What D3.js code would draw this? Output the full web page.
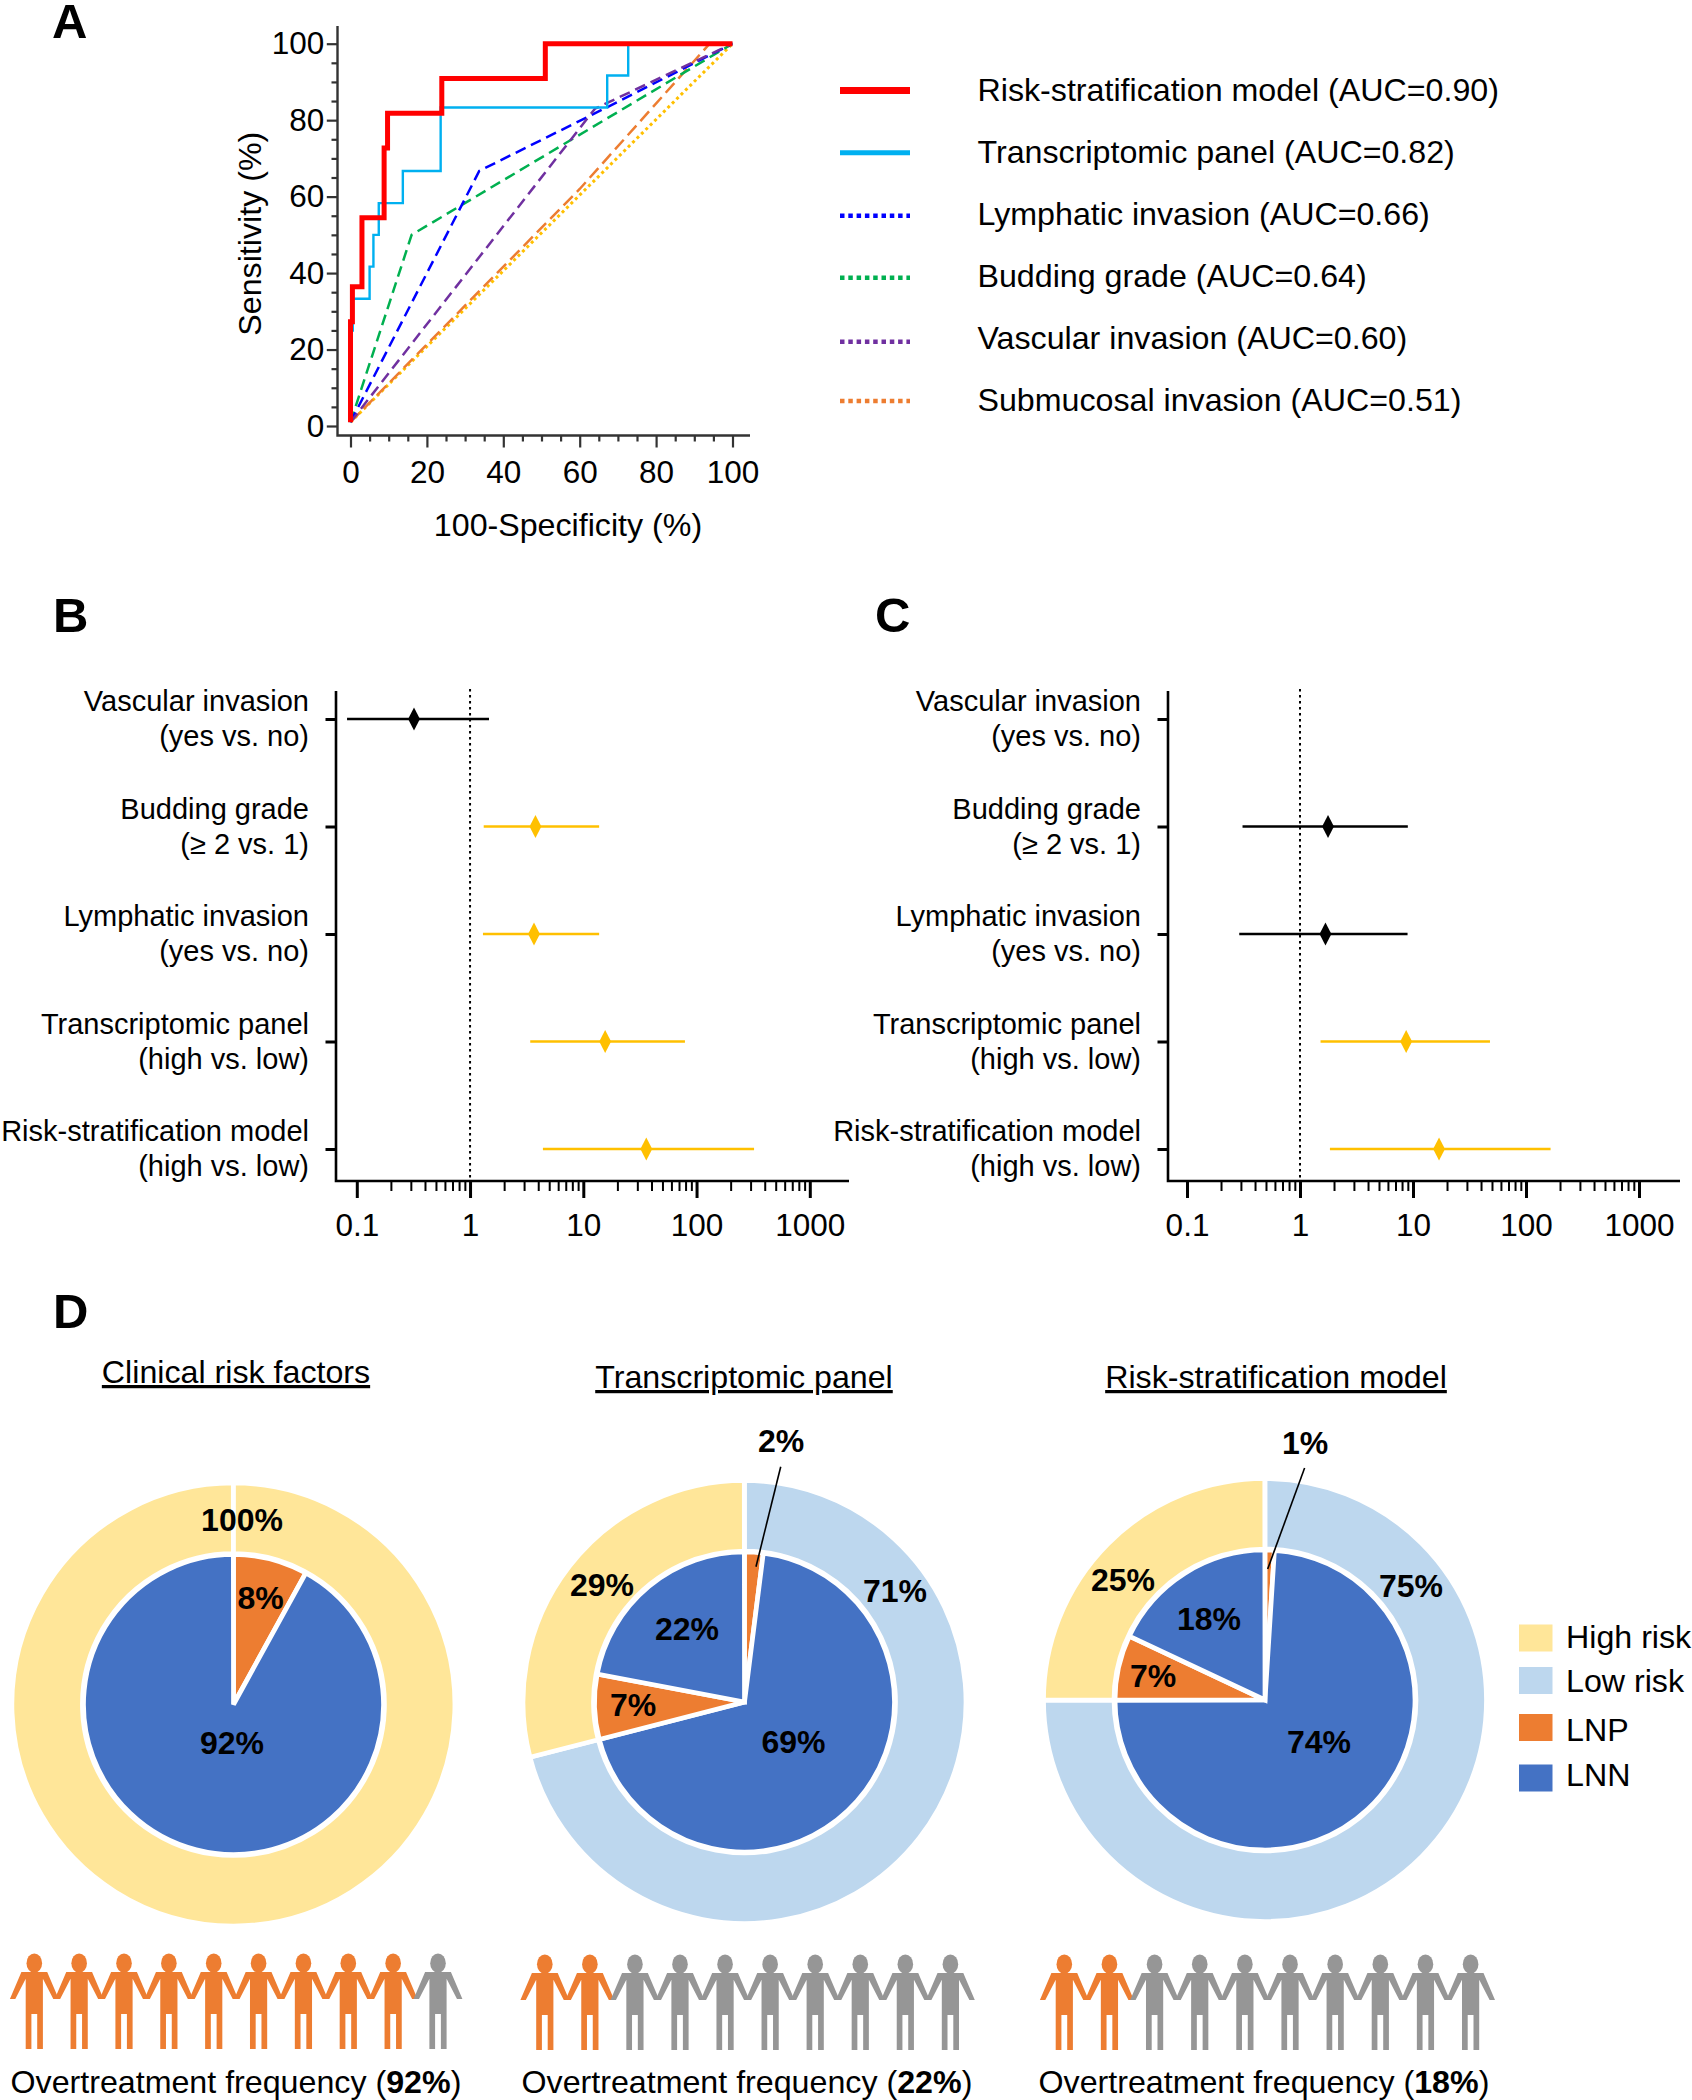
<!DOCTYPE html>
<html>
<head>
<meta charset="utf-8">
<script src="https://cdn.jsdelivr.net/npm/d3@7"></script>
<style>
  body { margin: 0; background: #fff; }
  text { font-family: "Liberation Sans", Arial, sans-serif; fill: #000; }
</style>
</head>
<body>
<div id="chart"></div>
<script>
//
// data: panel A (ROC curves)
//
var rocRisk = [[0,1],[0,27.3],[0.5,27.3],[0.5,36.4],[3,36.4],[3,54.5],[8.8,54.5],[8.8,72.7],[9.7,72.7],[9.7,81.8],[23.9,81.8],[23.9,90.9],[51,90.9],[51,100],[100,100]];
var rocPanel = [[0,1],[0,25],[0.6,25],[0.6,33.3],[5,33.3],[5,41.7],[6,41.7],[6,50],[7.4,50],[7.4,58.3],[13.7,58.3],[13.7,66.7],[23.6,66.7],[23.6,83.3],[67.2,83.3],[67.2,91.7],[72.7,91.7],[72.7,100],[100,100]];
var rocLymph = [[0,1],[33.7,66.7],[67,83.3],[100,100]];
var rocBudding = [[0,1],[16,50],[58,75],[100,100]];
var rocVascular = [[0,1],[64,83],[100,100]];
var rocSubmucosal = [[0,1],[60,62],[94,100],[100,100]];
var rocDiagonal = [[0,1],[100,100]];
var rocLegendNames = ["Risk-stratification model (AUC=0.90)", "Transcriptomic panel (AUC=0.82)", "Lymphatic invasion (AUC=0.66)", "Budding grade (AUC=0.64)", "Vascular invasion (AUC=0.60)", "Submucosal invasion (AUC=0.51)"];
var rocTicks = [0, 20, 40, 60, 80, 100];
var rocMinorTicks = [5, 10, 15, 25, 30, 35, 45, 50, 55, 65, 70, 75, 85, 90, 95];

//
// data: panels B and C (forest plots)
//
var forestNames = ["Vascular invasion", "Budding grade", "Lymphatic invasion", "Transcriptomic panel", "Risk-stratification model"];
var forestContrasts = ["(yes vs. no)", "(\u2265 2 vs. 1)", "(yes vs. no)", "(high vs. low)", "(high vs. low)"];
var orB = [0.32, 3.78, 3.67, 15.6, 36];
var loB = [0.082, 1.32, 1.3, 3.4, 4.4];
var hiB = [1.47, 13.8, 13.8, 79, 322];
var orC = [null, 1.77, 1.68, 8.7, 17];
var loC = [null, 0.31, 0.29, 1.52, 1.84];
var hiC = [null, 9, 8.95, 48, 165];
var forestTicks = [0.1, 1, 10, 100, 1000];
var forestTickLabels = ["0.1", "1", "10", "100", "1000"];

//
// data: panel D (pies)
//
var pieTitles = ["Clinical risk factors", "Transcriptomic panel", "Risk-stratification model"];
var outerValues = [[100], [71, 29], [75, 25]];
var outerGroups = [["High risk"], ["Low risk", "High risk"], ["Low risk", "High risk"]];
var innerValues = [[8, 92], [2, 69, 7, 22], [1, 74, 7, 18]];
var innerGroups = [["LNP", "LNN"], ["LNP", "LNN", "LNP", "LNN"], ["LNP", "LNN", "LNP", "LNN"]];
var pieLegend = ["High risk", "Low risk", "LNP", "LNN"];
var pieColors = ["#FFE699", "#BDD7EE", "#ED7D31", "#4472C4"];
var overtreatment = [92, 22, 18];
var overtreatedPeople = [9, 2, 2];

var width = 1692, height = 2100;
var FS = 32.2;

var svg = d3.select("#chart").append("svg")
    .attr("width", width)
    .attr("height", height)
    .attr("viewBox", "0 0 " + width + " " + height)
    .style("display", "block");

// panel letters
[["A", 52, 38], ["B", 53, 632], ["C", 875, 632], ["D", 53, 1328]].forEach(function(d) {
  svg.append("text").attr("x", d[1]).attr("y", d[2])
    .attr("font-size", 49).attr("font-weight", "bold").text(d[0]);
});

drawRoc();
drawForest(orB, loB, hiB, 336, 849, 356.8, 809.8, 309);
drawForest(orC, loC, hiC, 1168, 1680, 1187, 1639, 1141);
drawPies();


//
// panel A
//
function drawRoc() {
  var x = d3.scaleLinear().domain([0, 100]).range([350.5, 732.5]);
  var y = d3.scaleLinear().domain([0, 100]).range([426, 43.7]);
  var axisX = 337.5, axisY = 435.5;
  var g = svg.append("g");

  var line = d3.line()
      .x(function(d) { return x(d[0]) })
      .y(function(d) { return y(d[1]) });

  // drawn back to front
  var curves = [
    { data: rocDiagonal,   color: "#FFC000", w: 3,   dash: "3 3.2" },
    { data: rocSubmucosal, color: "#ED7D31", w: 2.5, dash: "13 6" },
    { data: rocBudding,    color: "#00B050", w: 2.5, dash: "11 6" },
    { data: rocLymph,      color: "#0000FF", w: 2.5, dash: "11 6" },
    { data: rocVascular,   color: "#7030A0", w: 2.5, dash: "11 6" },
    { data: rocPanel,      color: "#00B0F0", w: 2.4, dash: null },
    { data: rocRisk,       color: "#FF0000", w: 5,   dash: null }
  ];
  g.selectAll("path.roc").data(curves).enter().append("path")
    .attr("class", "roc")
    .attr("fill", "none")
    .attr("stroke", function(d) { return d.color })
    .attr("stroke-width", function(d) { return d.w })
    .attr("stroke-dasharray", function(d) { return d.dash })
    .attr("d", function(d) { return line(d.data) });

  // axes, minor ticks first and no domain path
  addAxis(d3.axisBottom(x).tickValues(rocMinorTicks).tickSize(6).tickFormat(""), axisY, true);
  addAxis(d3.axisLeft(y).tickValues(rocMinorTicks).tickSize(6).tickFormat(""), axisX, false);
  addAxis(d3.axisBottom(x).tickValues(rocTicks).tickSize(12).tickPadding(13.5), axisY, true);
  addAxis(d3.axisLeft(y).tickValues(rocTicks).tickSize(10.7).tickPadding(2.5), axisX, false);

  function addAxis(axis, pos, bottom) {
    var a = g.append("g")
        .attr("transform", bottom ? "translate(0," + pos + ")" : "translate(" + pos + ",0)")
        .call(axis);
    a.select(".domain").remove();
    a.selectAll("line").attr("stroke", "#333").attr("stroke-width", 2.2);
    a.selectAll("text").attr("font-size", 31.5).attr("font-family", "Liberation Sans").attr("fill", "#000");
  }

  g.append("path").attr("fill", "none").attr("stroke", "#333").attr("stroke-width", 2.4)
    .attr("d", "M" + axisX + ",26V" + axisY + "H750");

  g.append("text").attr("text-anchor", "middle").attr("x", 568).attr("y", 536)
    .attr("font-size", FS).text("100-Specificity (%)");
  g.append("text").attr("text-anchor", "middle")
    .attr("transform", "translate(260.5,233.7) rotate(-90)")
    .attr("font-size", FS).text("Sensitivity (%)");

  // legend
  var legendLines = [
    { y: 90.5,  color: "#FF0000", w: 7,   dash: null },
    { y: 152.7, color: "#00B0F0", w: 5,   dash: null },
    { y: 215.7, color: "#0000FF", w: 4.6, dash: "4.5 3.8" },
    { y: 277.7, color: "#00B050", w: 4.6, dash: "4.5 3.8" },
    { y: 341.7, color: "#7030A0", w: 4.6, dash: "4.5 3.8" },
    { y: 401,   color: "#ED7D31", w: 4.6, dash: "4.5 3.8" }
  ];
  legendLines.forEach(function(d, i) {
    g.append("line").attr("x1", 840).attr("x2", 910).attr("y1", d.y).attr("y2", d.y)
      .attr("stroke", d.color).attr("stroke-width", d.w).attr("stroke-dasharray", d.dash);
    g.append("text").attr("x", 977.5).attr("y", 100.5 + i * 62.1)
      .attr("font-size", FS).text(rocLegendNames[i]);
  });
}


//
// panels B and C
//
function drawForest(or, lo, hi, axisX, axisEnd, x0, x1, labelX) {
  var axisY = 1181;
  var x = d3.scaleLog().domain([0.1, 1000]).range([x0, x1]);
  var y = d3.scalePoint().domain(d3.range(forestNames.length)).range([719, 1149]);
  var g = svg.append("g");

  var minor = x.ticks().filter(function(t) { return forestTicks.indexOf(t) < 0 });
  var minorAxis = g.append("g").attr("transform", "translate(0," + axisY + ")")
      .call(d3.axisBottom(x).tickValues(minor).tickSize(10).tickFormat(""));
  minorAxis.select(".domain").remove();
  minorAxis.selectAll("line").attr("stroke", "#000").attr("stroke-width", 2);

  var majorAxis = g.append("g").attr("transform", "translate(0," + axisY + ")")
      .call(d3.axisBottom(x).tickValues(forestTicks).tickSize(17).tickPadding(16)
        .tickFormat(function(d, i) { return forestTickLabels[i] }));
  majorAxis.select(".domain").remove();
  majorAxis.selectAll("line").attr("stroke", "#000").attr("stroke-width", 3);
  majorAxis.selectAll("text").attr("font-size", 31.5).attr("font-family", "Liberation Sans").attr("fill", "#000");

  var rowAxis = g.append("g").attr("transform", "translate(" + axisX + ",0)")
      .call(d3.axisLeft(y).tickSize(10.5).tickFormat(""));
  rowAxis.select(".domain").remove();
  rowAxis.selectAll("line").attr("stroke", "#000").attr("stroke-width", 3);

  g.append("path").attr("fill", "none").attr("stroke", "#000").attr("stroke-width", 2.6)
    .attr("d", "M" + axisX + ",691V" + axisY + "H" + axisEnd);

  // reference line at 1
  g.append("line").attr("x1", x(1)).attr("x2", x(1)).attr("y1", 689).attr("y2", axisY)
    .attr("stroke", "#000").attr("stroke-width", 2).attr("stroke-dasharray", "2.5 3.5");

  // row labels
  forestNames.forEach(function(name, i) {
    var base = y(i) - 8;
    g.append("text").attr("text-anchor", "end").attr("x", labelX).attr("y", base)
      .attr("font-size", 29).text(name);
    g.append("text").attr("text-anchor", "end").attr("x", labelX).attr("y", base + 35)
      .attr("font-size", 29).text(forestContrasts[i]);
  });

  // CI lines and diamonds, significant rows in amber
  var diamond = d3.symbol().type(d3.symbolDiamond).size(150);
  or.forEach(function(v, i) {
    if (v === null) return;
    var color = lo[i] > 1 ? "#FFC000" : "#000";
    g.append("line").attr("x1", x(lo[i])).attr("x2", x(hi[i])).attr("y1", y(i)).attr("y2", y(i))
      .attr("stroke", color).attr("stroke-width", 2.6);
    g.append("path").attr("d", diamond).attr("fill", color)
      .attr("transform", "translate(" + x(v) + "," + y(i) + ") scale(0.9,1)");
  });
}


//
// panel D
//
function drawPies() {
  var color = d3.scaleOrdinal().domain(pieLegend).range(pieColors);
  var centers = [[233.5, 1704.5], [744.5, 1702], [1265, 1700]];
  var titleSpots = [[236, 1383], [744, 1388], [1276, 1388]];
  var labelSpots = [
    [[242, 1519], [260.5, 1597], [232, 1742]],
    [[895, 1590], [602, 1584.5], [781, 1440.5], [793.5, 1741.5], [633, 1704.5], [687, 1628.5]],
    [[1411, 1585.5], [1123, 1579.5], [1305, 1442.5], [1319, 1741.5], [1153, 1675.5], [1209, 1618.5]]
  ];
  var leaders = [null, [780.7, 1466.7, 756, 1566.7], [1304.6, 1468, 1267.7, 1569]];
  var peopleX = [[34.3, 438], [544.8, 950.4], [1064.3, 1470.6]];
  var peopleTop = [1972, 1973, 1973];
  var captionX = [10.5, 521.5, 1038.5];

  // a hair under a full turn so the single slice still shows its white seam
  var pie = d3.pie().sort(null).endAngle(2 * Math.PI - 0.001);
  var outerArc = d3.arc().innerRadius(151).outerRadius(221.5);
  var innerArc = d3.arc().innerRadius(0).outerRadius(150);

  pieTitles.forEach(function(title, p) {
    var g = svg.append("g").attr("transform", "translate(" + centers[p] + ")");

    g.selectAll("path.outer").data(pie(outerValues[p])).enter().append("path")
      .attr("class", "outer")
      .attr("d", outerArc)
      .attr("fill", function(d, i) { return color(outerGroups[p][i]) })
      .attr("stroke", "#fff").attr("stroke-width", 4.7);

    g.selectAll("path.inner").data(pie(innerValues[p])).enter().append("path")
      .attr("class", "inner")
      .attr("d", innerArc)
      .attr("fill", function(d, i) { return color(innerGroups[p][i]) })
      .attr("stroke", "#fff").attr("stroke-width", 4.7);

    svg.append("text").attr("text-anchor", "middle")
      .attr("x", titleSpots[p][0]).attr("y", titleSpots[p][1])
      .attr("font-size", FS).attr("text-decoration", "underline").text(title);

    if (leaders[p]) {
      svg.append("line")
        .attr("x1", leaders[p][0]).attr("y1", leaders[p][1])
        .attr("x2", leaders[p][2]).attr("y2", leaders[p][3])
        .attr("stroke", "#000").attr("stroke-width", 1.6);
    }

    // percent labels, outer ring first
    outerValues[p].concat(innerValues[p]).forEach(function(v, i) {
      svg.append("text").attr("text-anchor", "middle").attr("dy", "0.36em")
        .attr("x", labelSpots[p][i][0]).attr("y", labelSpots[p][i][1])
        .attr("font-size", 32).attr("font-weight", "bold").text(v + "%");
    });

    drawPeople(overtreatedPeople[p], peopleX[p], peopleTop[p]);

    var cap = svg.append("text").attr("x", captionX[p]).attr("y", 2092.5).attr("font-size", FS);
    cap.append("tspan").text("Overtreatment frequency (");
    cap.append("tspan").attr("font-weight", "bold").text(overtreatment[p] + "%");
    cap.append("tspan").text(")");
  });

  // legend
  var legendY = [1624.5, 1667, 1714, 1764.5];
  var legendText = [1647.5, 1692, 1740.5, 1786];
  pieLegend.forEach(function(name, i) {
    svg.append("rect").attr("x", 1519).attr("y", legendY[i]).attr("width", 33.5).attr("height", 27)
      .attr("fill", color(name));
    svg.append("text").attr("x", 1566).attr("y", legendText[i]).attr("font-size", FS).text(name);
  });
}

// row of ten holding-hands figures
function drawPeople(nOrange, xRange, top) {
  var x = d3.scaleLinear().domain([0, 9]).range(xRange);
  var body = [[-12.9,0],[12.9,0],[24.4,27],[19,27],[8.6,6.7],[8.6,77],[2.9,77],[2.9,42],[-2.9,42],[-2.9,77],[-8.6,77],[-8.6,6.7],[-19,27],[-24.4,27]];
  d3.range(10).forEach(function(i) {
    var g = svg.append("g")
        .attr("transform", "translate(" + x(i) + "," + top + ")")
        .attr("fill", i < nOrange ? "#ED7D31" : "#969696");
    g.append("ellipse").attr("cx", 0).attr("cy", -8.8).attr("rx", 7.8).attr("ry", 9.7);
    g.append("path").attr("d", d3.line()(body) + "Z");
  });
}
</script>
</body>
</html>
